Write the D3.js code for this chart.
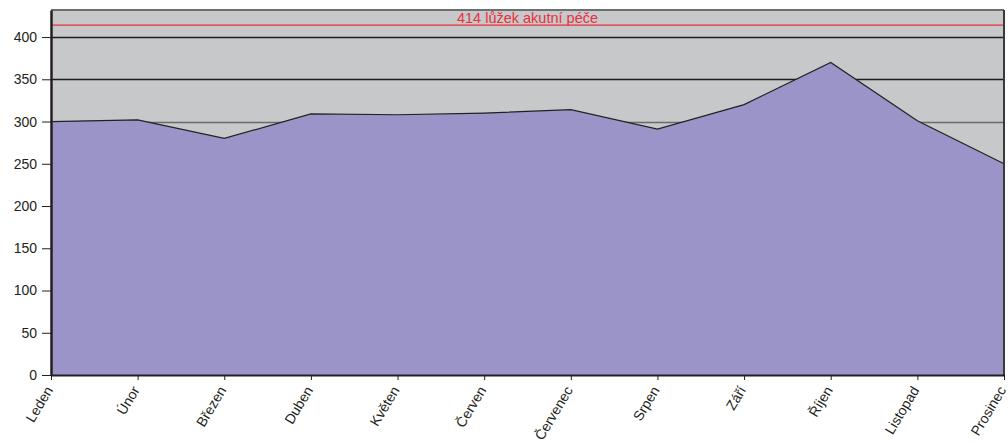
<!DOCTYPE html>
<html>
<head>
<meta charset="utf-8">
<script src="https://cdn.jsdelivr.net/npm/d3@7"></script>
<style>
  body { margin: 0; background: #fff; }
  svg text { font-family: "Liberation Sans", Arial, sans-serif; }
</style>
</head>
<body>
<svg id="chart" width="1008" height="443"></svg>
<script>
// months and bed occupancy
const months = ["Leden", "Únor", "Březen", "Duben", "Květen", "Červen",
  "Červenec", "Srpen", "Září", "Říjen", "Listopad", "Prosinec"];
const beds = [300, 302, 280, 309, 308, 310, 314, 291, 320, 370, 301, 250];
const yTicks = [0, 50, 100, 150, 200, 250, 300, 350, 400];
const capacity = 414;
const capacityLabel = "414 lůžek akutní péče";

const width = 1008, height = 443;
const margin = { top: 10, right: 4, bottom: 68, left: 51 };

const svg = d3.select("#chart");

const x = d3.scalePoint()
  .domain(months)
  .range([margin.left, width - margin.right]);

const y = d3.scaleLinear()
  .domain([0, 432])
  .range([height - margin.bottom, margin.top]);

let colorBg = "#c7c8ca";
let colorArea = "#9b94c8";
let colorLine = "#231f20";
let colorRed = "#e8303a";

// plot background
svg.append("rect")
  .attr("x", margin.left)
  .attr("y", margin.top)
  .attr("width", width - margin.right - margin.left)
  .attr("height", height - margin.bottom - margin.top)
  .attr("fill", colorBg);

// gridlines
svg.append("g")
  .selectAll("line")
  .data(yTicks.filter(d => d > 0))
  .join("line")
  .attr("x1", margin.left)
  .attr("x2", width - margin.right)
  .attr("y1", d => Math.round(y(d)) + 0.5)
  .attr("y2", d => Math.round(y(d)) + 0.5)
  .attr("stroke", d => d <= 300 ? "#6a6a6c" : "#1e1e1e")
  .attr("stroke-width", 1.3);

// area
const area = d3.area()
  .x((d, i) => x(months[i]))
  .y0(y(0))
  .y1(d => y(d));

svg.append("path")
  .datum(beds)
  .attr("d", area)
  .attr("fill", colorArea);

const line = d3.line()
  .x((d, i) => x(months[i]))
  .y(d => y(d));

svg.append("path")
  .datum(beds)
  .attr("d", line)
  .attr("fill", "none")
  .attr("stroke", colorLine)
  .attr("stroke-width", 1.2);

// capacity line
svg.append("line")
  .attr("x1", margin.left)
  .attr("x2", width - margin.right)
  .attr("y1", y(capacity))
  .attr("y2", y(capacity))
  .attr("stroke", colorRed)
  .attr("stroke-width", 1.3);

svg.append("text")
  .attr("x", (margin.left + width - margin.right) / 2)
  .attr("y", y(capacity) - 2.5)
  .attr("text-anchor", "middle")
  .attr("fill", colorRed)
  .style("font-size", "14.5px")
  .text(capacityLabel);

// frame: top and right
svg.append("line")
  .attr("x1", margin.left).attr("x2", width - margin.right)
  .attr("y1", margin.top).attr("y2", margin.top)
  .attr("stroke", "#6d6e70").attr("stroke-width", 2);

svg.append("line")
  .attr("x1", width - margin.right).attr("x2", width - margin.right)
  .attr("y1", margin.top).attr("y2", height - margin.bottom)
  .attr("stroke", "#3a3a3c").attr("stroke-width", 2);

// y axis
const yAxis = svg.append("g")
  .attr("transform", `translate(${margin.left},0)`)
  .call(d3.axisLeft(y).tickValues(yTicks).tickSize(9).tickPadding(5).tickSizeOuter(0));

yAxis.select(".domain").attr("stroke", colorLine).attr("stroke-width", 2.5);
yAxis.selectAll(".tick line").attr("stroke", colorLine);
yAxis.selectAll("text")
  .attr("fill", "#231f20")
  .style("font-size", "14px");

// x axis
const xAxis = svg.append("g")
  .attr("transform", `translate(0,${height - margin.bottom})`)
  .call(d3.axisBottom(x).tickSize(5).tickSizeOuter(0));

xAxis.select(".domain").attr("stroke", colorLine).attr("stroke-width", 2);
xAxis.selectAll(".tick line").attr("stroke", colorLine);
xAxis.selectAll("text")
  .attr("fill", "#231f20")
  .style("font-size", "14px")
  .attr("text-anchor", "end")
  .attr("x", 0)
  .attr("y", 0)
  .attr("dx", 0)
  .attr("dy", 0)
  .attr("transform", "translate(2,15) rotate(-59)");
</script>
</body>
</html>
